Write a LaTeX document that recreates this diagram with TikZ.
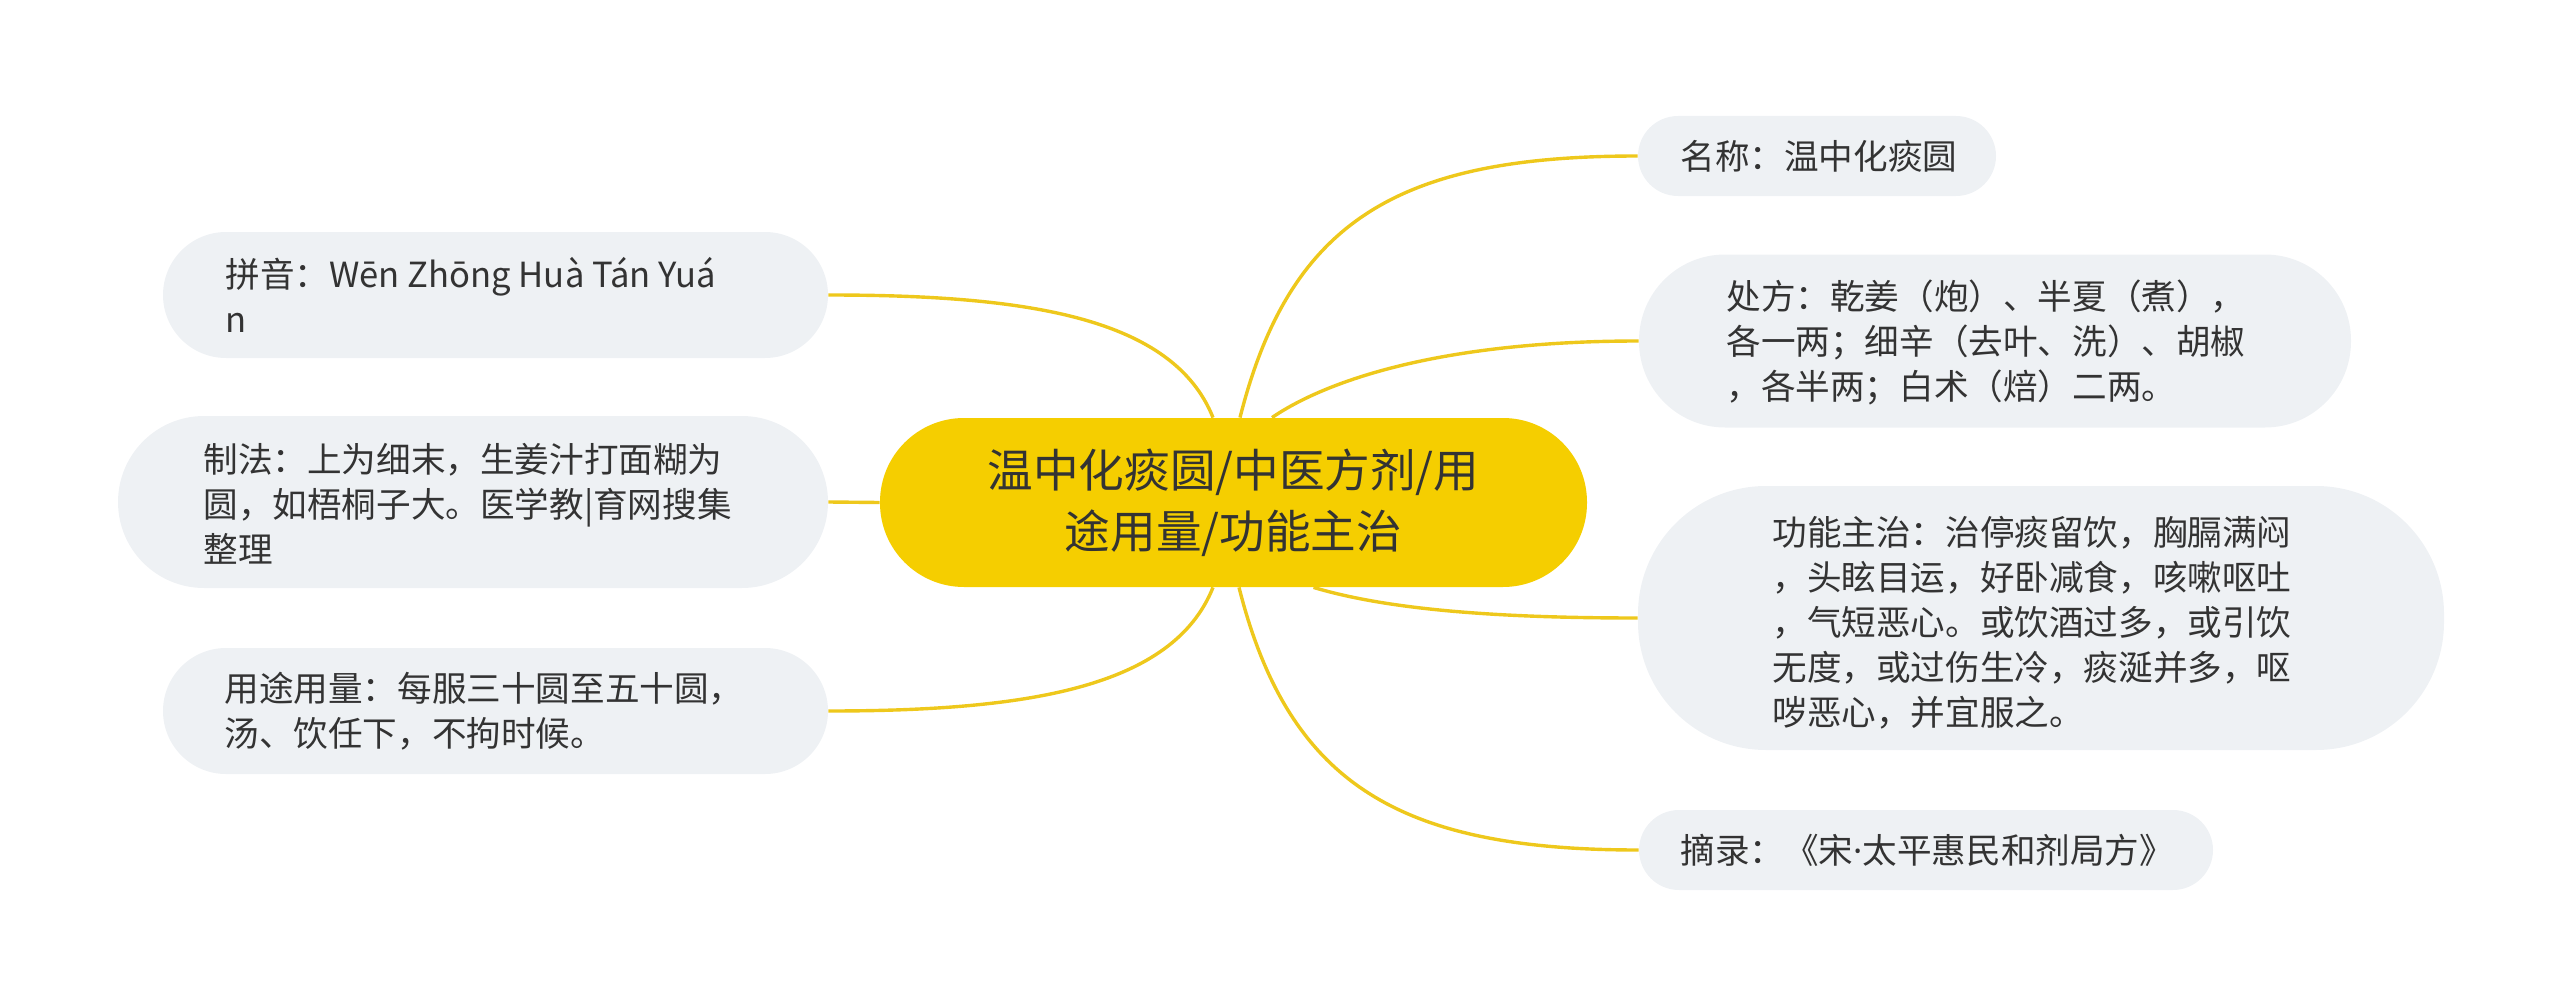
\documentclass[tikz,border=0pt]{standalone}
\usepackage{fontspec}
\setmainfont{Noto Sans CJK SC}
\newfontfamily\latinfont{Noto Sans}
\usetikzlibrary{calc,backgrounds}
\definecolor{leaffill}{HTML}{EEF1F4}
\definecolor{rootfill}{HTML}{F5CE00}
\definecolor{linkcol}{HTML}{EEC81C}
\definecolor{txtcol}{HTML}{333333}
\begin{document}
\begin{tikzpicture}[x=0.5pt,y=-0.5pt,
  leafbox/.style={fill=leaffill, inner sep=0pt, draw=none},
  leaftext/.style={anchor=west, inner sep=0pt, align=left, text=txtcol, font=\fontsize{17.3pt}{22.5pt}\selectfont},
  rootbox/.style={fill=rootfill, rounded corners=42pt, minimum width=353.5pt, minimum height=84.5pt, inner sep=0pt, align=center, text=txtcol, font=\fontsize{22.8pt}{30.5pt}\selectfont},
  link/.style={draw=linkcol, line width=1.7pt}]
\useasboundingbox (0,0) rectangle (2560,1006);
% root
\node[rootbox] (c) at (1233.5,502.5) {温中化痰圆/中医方剂/用\\途用量/功能主治};
% left leaves
\node[leafbox, minimum width=332.5pt, minimum height=63pt, rounded corners=31.5pt] (b1) at (495.5,295) {};
\node[leaftext] (t1) at (225,295) {拼音：Wēn Zhōng Huà Tán Yuá\\n};
\node[leafbox, minimum width=355pt, minimum height=86pt, rounded corners=43pt] (b2) at (473,502) {};
\node[leaftext] (t2) at (203,504) {制法：上为细末，生姜汁打面糊为\\圆，如梧桐子大。医学教|育网搜集\\整理};
\node[leafbox, minimum width=332.5pt, minimum height=63pt, rounded corners=31.5pt] (b3) at (495.5,711) {};
\node[leaftext] (t3) at (224,711) {用途用量：每服三十圆至五十圆，\\汤、饮任下，不拘时候。};
% right leaves
\node[leafbox, minimum width=179pt, minimum height=40pt, rounded corners=20pt] (b4) at (1817,156) {};
\node[leaftext] (t4) at (1680,156) {名称：温中化痰圆};
\node[leafbox, minimum width=356pt, minimum height=86.5pt, rounded corners=43pt] (b5) at (1995,341) {};
\node[leaftext] (t5) at (1726,342) {处方：乾姜（炮）、半夏（煮），\\各一两；细辛（去叶、洗）、胡椒\\，各半两；白术（焙）二两。};
\node[leafbox, minimum width=403pt, minimum height=132pt, rounded corners=64pt] (b6) at (2041,618) {};
\node[leaftext] (t6) at (1772,623) {功能主治：治停痰留饮，胸膈满闷\\，头眩目运，好卧减食，咳嗽呕吐\\，气短恶心。或饮酒过多，或引饮\\无度，或过伤生冷，痰涎并多，呕\\哕恶心，并宜服之。};
\node[leafbox, minimum width=287pt, minimum height=40pt, rounded corners=20pt] (b7) at (1926,850) {};
\node[leaftext] (t7) at (1680,850) {摘录：《宋{\latinfont ·}太平惠民和剂局方》};
% connectors
\begin{scope}[on background layer]
\draw[link] ($(c.north)+(-20.5,0)$) .. controls +(-40,-100) and +(200,0) .. (b1.east);
\draw[link] (c.west) -- (b2.east);
\draw[link] ($(c.south)+(-20.5,0)$) .. controls +(-40,100) and +(200,0) .. (b3.east);
\draw[link] ($(c.north)+(6.5,0)$) .. controls +(50,-198) and +(-238,0) .. (b4.west);
\draw[link] ($(c.north)+(38.5,0)$) .. controls +(48,-33) and +(-208,0) .. (b5.west);
\draw[link] ($(c.south)+(80,0)$) .. controls +(67,20) and +(-158,0) .. (b6.west);
\draw[link] ($(c.south)+(5.5,0)$) .. controls +(50,198) and +(-238,0) .. (b7.west);
\end{scope}
\end{tikzpicture}
\end{document}
